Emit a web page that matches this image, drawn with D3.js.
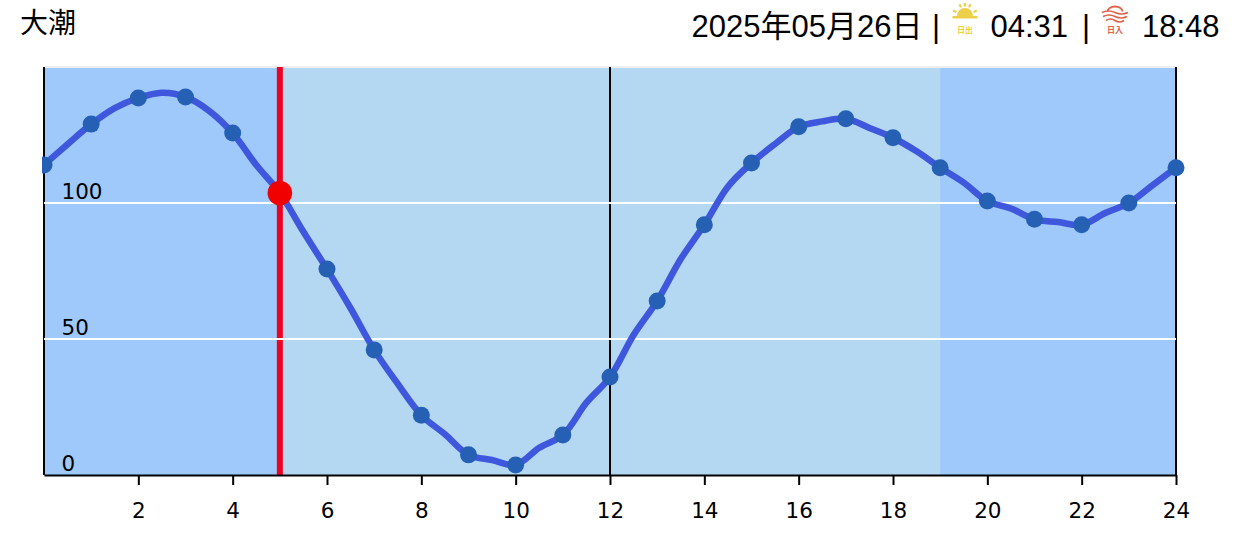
<!DOCTYPE html>
<html>
<head>
<meta charset="utf-8">
<script src="https://cdn.jsdelivr.net/npm/d3@7"></script>
<style>
    html, body { margin: 0; padding: 0; background: #fff; }
    svg { display: block; }
</style>
</head>
<body>
<div id="chart"></div>
<script>
const tideName = "大潮";
const dateLabel = "2025年05月26日";
const sunriseLabel = "04:31";
const sunsetLabel = "18:48";

// half hour steps, 0 to 24
const halfHours = [0, 0.5, 1, 1.5, 2, 2.5, 3, 3.5, 4, 4.5, 5, 5.5, 6, 6.5, 7, 7.5, 8, 8.5, 9, 9.5, 10, 10.5, 11, 11.5, 12,
    12.5, 13, 13.5, 14, 14.5, 15, 15.5, 16, 16.5, 17, 17.5, 18, 18.5, 19, 19.5, 20, 20.5, 21, 21.5, 22, 22.5, 23, 23.5, 24];
const tideLevels = [114, 121.6, 129, 134.9, 138.6, 140.5, 139, 133.9, 125.7, 114, 103.7, 89.4, 75.7, 61.3, 46, 33.5, 22, 15, 7.4, 5.5, 3.7, 10, 14.7, 26.6, 36,
    51.5, 64, 79.4, 92, 106, 114.7, 121.7, 128, 130, 131, 127.6, 124, 119, 113, 107.5, 100.7, 98, 94, 93, 92, 96.3, 100, 106.5, 113];

const hourTicks = [2, 4, 6, 8, 10, 12, 14, 16, 18, 20, 22, 24];
const levelTicks = [0, 50, 100];
const gridLevels = [50, 100];
const blackHours = [0, 12, 24];
const dayHours = [5, 19];
const currentHour = 5;
const currentLevel = 103.7;

const width = 1241, height = 559;
const margin = { top: 67, right: 65, bottom: 84, left: 44 };

const svg = d3.select("#chart")
    .append("svg")
    .attr("width", width)
    .attr("height", height);

const x = d3.scaleLinear()
    .domain([0, 24])
    .range([margin.left, width - margin.right]);

const y = d3.scaleLinear()
    .domain([0, 150])
    .range([height - margin.bottom, margin.top]);

svg.append("clipPath").attr("id", "dotclip")
    .append("rect")
    .attr("x", margin.left - 2)
    .attr("y", 0)
    .attr("width", width)
    .attr("height", height);

// night / day background
svg.append("rect")
    .attr("x", x(0))
    .attr("y", y(150))
    .attr("width", x(24) - x(0))
    .attr("height", y(0) - y(150))
    .attr("fill", "#9fc9fb");

svg.append("rect")
    .attr("x", x(dayHours[0]))
    .attr("y", y(150))
    .attr("width", x(dayHours[1]) - x(dayHours[0]))
    .attr("height", y(0) - y(150))
    .attr("fill", "#b5d8f2");

svg.append("line")
    .attr("x1", x(0))
    .attr("x2", x(24))
    .attr("y1", y(150))
    .attr("y2", y(150))
    .attr("stroke", "#eeeeee")
    .attr("stroke-width", 2);

svg.selectAll(".hour-line")
    .data(blackHours)
    .join("line")
    .attr("class", "hour-line")
    .attr("x1", d => x(d))
    .attr("x2", d => x(d))
    .attr("y1", y(150))
    .attr("y2", y(0))
    .attr("stroke", "#000")
    .attr("stroke-width", 2);

// current time
svg.append("line")
    .attr("x1", x(currentHour))
    .attr("x2", x(currentHour))
    .attr("y1", y(150))
    .attr("y2", y(0))
    .attr("stroke", "#f00020")
    .attr("stroke-width", 6);

svg.selectAll(".grid-line")
    .data(gridLevels)
    .join("line")
    .attr("class", "grid-line")
    .attr("x1", x(0))
    .attr("x2", x(24))
    .attr("y1", d => y(d))
    .attr("y2", d => y(d))
    .attr("stroke", "#fff")
    .attr("stroke-width", 2);

const axisX = svg.append("g")
    .attr("transform", `translate(0,${y(0)})`)
    .call(d3.axisBottom(x).tickValues(hourTicks).tickSize(10).tickPadding(18).tickSizeOuter(0));

axisX.select(".domain").attr("stroke", "#000").attr("stroke-width", 2);
axisX.selectAll(".tick line").attr("stroke", "#000").attr("stroke-width", 2);
axisX.selectAll(".tick text")
    .attr("font-family", "'DejaVu Sans'")
    .attr("font-size", 21.5)
    .attr("fill", "#000");

svg.selectAll(".level-label")
    .data(levelTicks)
    .join("text")
    .attr("class", "level-label")
    .attr("x", 61.5)
    .attr("y", d => y(d) - 4)
    .attr("font-family", "'DejaVu Sans'")
    .attr("font-size", 21.5)
    .attr("fill", "#000")
    .text(d => d);

const line = d3.line()
    .x((d, i) => x(halfHours[i]))
    .y(d => y(d))
    .curve(d3.curveCatmullRom.alpha(0.5));

svg.append("path")
    .datum(tideLevels)
    .attr("d", line)
    .attr("fill", "none")
    .attr("stroke", "#3f57dd")
    .attr("stroke-width", 6.5)
    .attr("stroke-linejoin", "round");

svg.append("g")
    .attr("clip-path", "url(#dotclip)")
    .selectAll("circle")
    .data(halfHours.filter(h => Number.isInteger(h)))
    .join("circle")
    .attr("cx", d => x(d))
    .attr("cy", d => y(tideLevels[halfHours.indexOf(d)]))
    .attr("r", 8.5)
    .attr("fill", "#2560b5");

svg.append("circle")
    .attr("cx", x(currentHour))
    .attr("cy", y(currentLevel))
    .attr("r", 12.3)
    .attr("fill", "#f00000");

// header
svg.append("text")
    .attr("x", 20)
    .attr("y", 33)
    .attr("font-family", "'Noto Sans CJK JP'")
    .attr("font-size", 28)
    .attr("fill", "#000")
    .text(tideName);

const header = [
    { text: dateLabel, x: 691.5 },
    { text: "|", x: 932 },
    { text: sunriseLabel, x: 990.5 },
    { text: "|", x: 1082 },
    { text: sunsetLabel, x: 1142 }
];

svg.selectAll(".head")
    .data(header)
    .join("text")
    .attr("class", "head")
    .attr("x", d => d.x)
    .attr("y", 37)
    .attr("font-family", "'Liberation Sans', 'Noto Sans CJK JP'")
    .attr("font-size", 31)
    .attr("fill", "#000")
    .text(d => d.text);

// sunrise icon
const rise = svg.append("g").attr("transform", "translate(965,0)");
const riseColor = "#ecd04a";
rise.append("path")
    .attr("d", d3.arc()({ innerRadius: 0, outerRadius: 8, startAngle: -Math.PI / 2, endAngle: Math.PI / 2 }))
    .attr("transform", "translate(0,16)")
    .attr("fill", riseColor);
rise.append("rect").attr("x", -12.5).attr("y", 16).attr("width", 25).attr("height", 2.5).attr("fill", riseColor);
rise.selectAll(".ray")
    .data([-65, -25, 0, 25, 65])
    .join("line")
    .attr("x1", 0).attr("x2", 0)
    .attr("y1", -13).attr("y2", -9.5)
    .attr("transform", d => `translate(0,16) rotate(${d})`)
    .attr("stroke", riseColor)
    .attr("stroke-width", 2.2);
rise.append("text")
    .attr("y", 33)
    .attr("text-anchor", "middle")
    .attr("font-family", "'Noto Sans CJK JP'")
    .attr("font-weight", 700)
    .attr("font-size", 8)
    .attr("fill", riseColor)
    .text("日出");

// sunset icon
const set = svg.append("g").attr("transform", "translate(1115,0)");
const setColor = "#e0604a";
set.append("path")
    .attr("d", "M-7.5,11.5 A7.5,5 0 0 1 7.5,11.5")
    .attr("fill", "none")
    .attr("stroke", setColor)
    .attr("stroke-width", 1.8);
set.selectAll(".wave")
    .data([{ y: 12.5, w: 13 }, { y: 16.5, w: 12 }, { y: 20.5, w: 9 }])
    .join("path")
    .attr("class", "wave")
    .attr("d", d => `M${-d.w},${d.y} Q${-d.w / 2},${d.y - 3} 0,${d.y} T${d.w},${d.y}`)
    .attr("fill", "none")
    .attr("stroke", setColor)
    .attr("stroke-width", 1.6);
set.append("text")
    .attr("y", 33)
    .attr("text-anchor", "middle")
    .attr("font-family", "'Noto Sans CJK JP'")
    .attr("font-weight", 700)
    .attr("font-size", 8)
    .attr("fill", setColor)
    .text("日入");
</script>
</body>
</html>
